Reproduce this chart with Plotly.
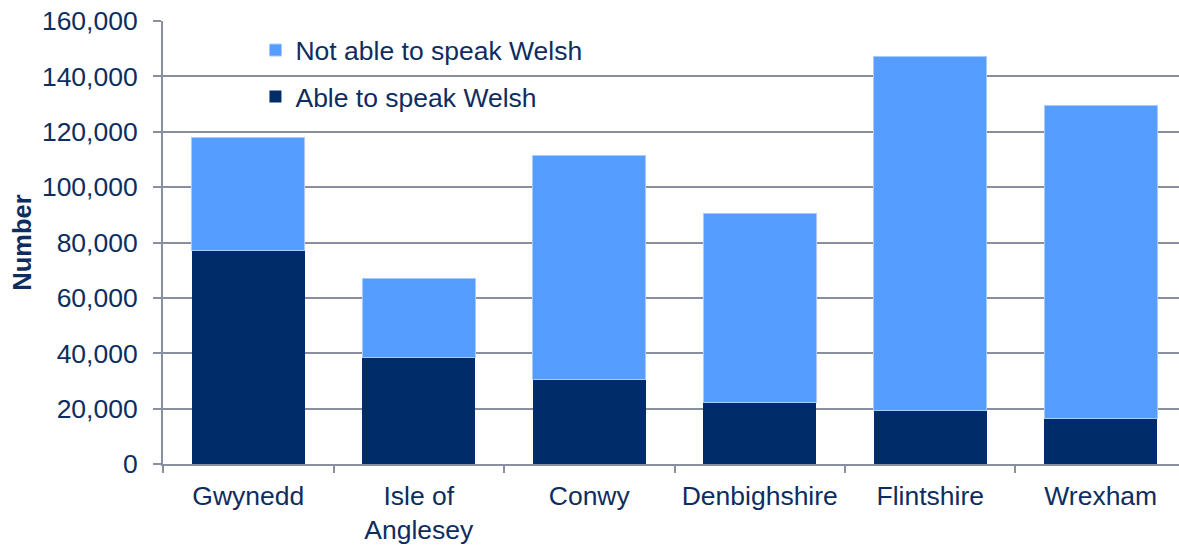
import plotly.graph_objects as go

categories = ["Gwynedd", "Isle of<br>Anglesey", "Conwy", "Denbighshire", "Flintshire", "Wrexham"]
able = [77000, 38500, 30400, 22200, 19300, 16600]
not_able = [41000, 28600, 81100, 68400, 127800, 112800]
y_ticks = [0, 20000, 40000, 60000, 80000, 100000, 120000, 140000, 160000]
y_tick_labels = ["0", "20,000", "40,000", "60,000", "80,000", "100,000", "120,000", "140,000", "160,000"]

TEXT = "#0E2D5F"
GRID = "#8A8EA2"
FONT = "Liberation Sans, Arial, sans-serif"
FS = 26.5

fig = go.Figure()
fig.add_trace(go.Bar(x=categories, y=able, name="Able to speak Welsh",
                     marker=dict(color="#002D69", line=dict(color="#002D69", width=0)),
                     legendgroup="able", legendrank=2))
fig.add_trace(go.Bar(x=categories, y=not_able, name="Not able to speak Welsh",
                     marker=dict(color="#559DFF", line=dict(color="#A8CBFF", width=1)),
                     legendgroup="notable", legendrank=1))

fig.update_layout(
    barmode="stack",
    bargap=0.337,
    width=1179, height=545,
    margin=dict(l=163, r=0, t=21, b=78),
    paper_bgcolor="white", plot_bgcolor="white",
    font=dict(family=FONT, size=FS, color=TEXT),
    showlegend=True,
    legend=dict(x=0.091, y=0.988, xanchor="left", yanchor="top",
                traceorder="grouped", tracegroupgap=9,
                bgcolor="rgba(0,0,0,0)", font=dict(size=FS, color=TEXT)),
    xaxis=dict(range=[-0.5, 5.459], showline=True, linecolor=GRID, linewidth=2,
               ticks="outside", tickson="boundaries", ticklen=7, tickwidth=2, tickcolor=GRID,
               tickfont=dict(size=FS, color=TEXT), showgrid=False, ticklabelstandoff=7),
    yaxis=dict(range=[0, 160000], tickvals=y_ticks, ticktext=y_tick_labels,
               showline=True, linecolor=GRID, linewidth=2,
               ticks="outside", ticklen=8, tickwidth=2, tickcolor=GRID,
               showgrid=True, gridcolor=GRID, gridwidth=2, zeroline=False,
               tickfont=dict(size=FS, color=TEXT), ticklabelstandoff=10,
               title=dict(text="<b>Number</b>", font=dict(size=25.5, color=TEXT), standoff=3)),
)

post = (
    "var h=document.documentElement,b=document.body;"
    "h.style.margin='0';h.style.padding='0';h.style.overflow='hidden';"
    "b.style.margin='0';b.style.padding='0';b.style.overflow='hidden';"
    "var d=document.querySelector('.plotly-graph-div');"
    "if(d){d.style.display='block';if(d.parentElement){d.parentElement.style.height='545px';"
    "d.parentElement.style.overflow='hidden';}}"
)

fig.write_html("out.html", config={"displayModeBar": False}, post_script=post)
